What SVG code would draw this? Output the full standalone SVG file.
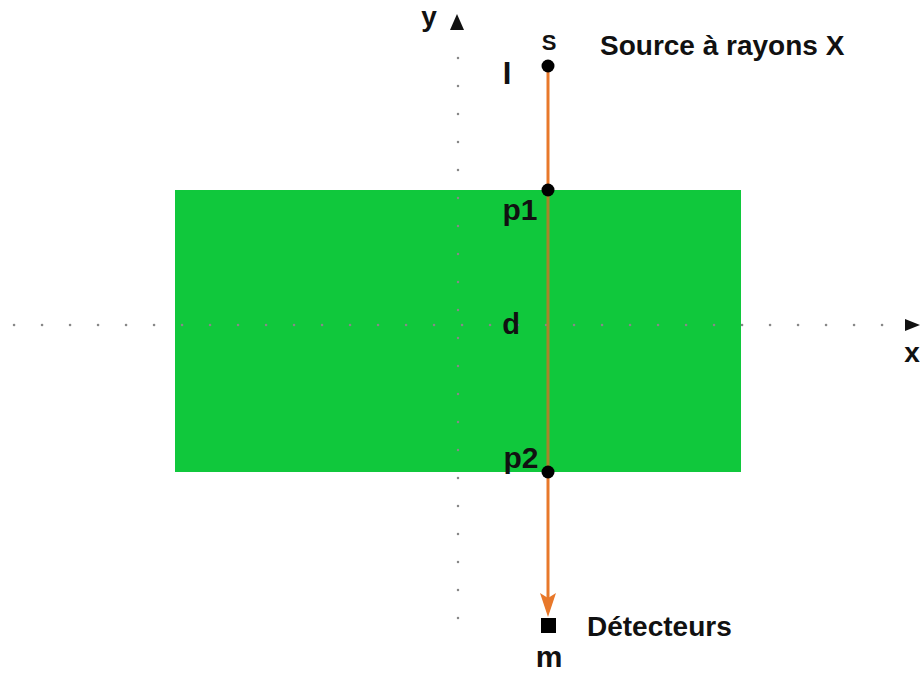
<svg xmlns="http://www.w3.org/2000/svg" width="921" height="675" viewBox="0 0 921 675">
<defs>
<style>
.t{font-family:"Liberation Sans",Arial,sans-serif;font-weight:bold;fill:#111}
.ax{stroke:#888;stroke-width:2.5;stroke-dasharray:0.1 27.9;stroke-linecap:round;fill:none}
</style>
</defs>
<rect width="921" height="675" fill="#fff"/>
<g id="object"><rect x="175" y="190" width="566" height="282" fill="#10C83C"/></g>
<g id="axes">
<line class="ax" x1="14" y1="325" x2="900" y2="325"/>
<line class="ax" x1="458" y1="58" x2="458" y2="620"/>
<path d="M450,30 L457,14 L464,30 Z" fill="#111"/>
<path d="M905,319 L920,325 L905,331 Z" fill="#111"/>
<text class="t" x="429" y="26" font-size="28" text-anchor="middle">y</text>
<text class="t" x="912" y="362" font-size="28" text-anchor="middle">x</text>
</g>
<g id="connectors">
<line x1="548" y1="66" x2="548" y2="190" stroke="#E8782A" stroke-width="3"/>
<line x1="548" y1="190" x2="548" y2="472" stroke="#A8842A" stroke-width="3"/>
<line x1="548" y1="472" x2="548" y2="600" stroke="#E8782A" stroke-width="3"/>
<path d="M540,593 L548,598 L556,593 L548,617 Z" fill="#E8782A"/>
</g>
<g id="source">
<circle cx="548" cy="66" r="6.5" fill="#000"/>
<text class="t" x="549" y="50" font-size="22" font-weight="normal" text-anchor="middle">S</text>
<text class="t" x="600" y="55" font-size="28">Source à rayons X</text>
<text class="t" x="507" y="84" font-size="31" text-anchor="middle">I</text>
</g>
<g id="p1"><circle cx="548" cy="190" r="6.5" fill="#000"/><text class="t" x="520" y="220" font-size="30" text-anchor="middle">p1</text></g>
<g id="d"><text class="t" x="511" y="334" font-size="29" text-anchor="middle">d</text></g>
<g id="p2"><circle cx="548" cy="472" r="6.5" fill="#000"/><text class="t" x="521" y="468" font-size="30" text-anchor="middle">p2</text></g>
<g id="detector">
<rect x="541" y="618" width="15" height="15" fill="#000"/>
<text class="t" x="587" y="636" font-size="28">Détecteurs</text>
<text class="t" x="549" y="667" font-size="30" text-anchor="middle">m</text>
</g>
</svg>
